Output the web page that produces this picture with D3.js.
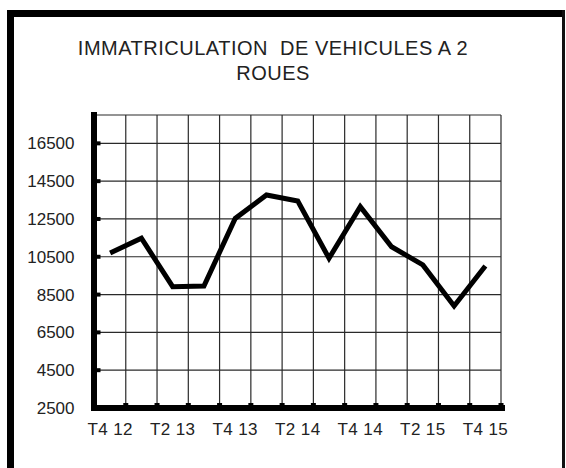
<!DOCTYPE html>
<html>
<head>
<meta charset="utf-8">
<script src="https://cdn.jsdelivr.net/npm/d3@7"></script>
<style>
  body { margin: 0; background: #fff; }
  svg { display: block; font-family: "Liberation Sans", Arial, sans-serif; }
</style>
</head>
<body>
<svg id="chart" width="566" height="468"></svg>
<script>
// data
const quarters = ['T4 12', 'T1 13', 'T2 13', 'T3 13', 'T4 13', 'T1 14', 'T2 14',
  'T3 14', 'T4 14', 'T1 15', 'T2 15', 'T3 15', 'T4 15']
const immatriculations = [10700, 11480, 8920, 8950, 12530, 13770, 13450,
  10420, 13150, 11030, 10070, 7900, 10010]
const yTicks = [2500, 4500, 6500, 8500, 10500, 12500, 14500, 16500]
const xLabels = ['T4 12', 'T2 13', 'T4 13', 'T2 14', 'T4 14', 'T2 15', 'T4 15']
const titleLines = ['IMMATRICULATION  DE VEHICULES A 2', 'ROUES']

const svg = d3.select('#chart')
const ink = '#222'

// outer frame (left + top thick, right thin, no bottom visible)
svg.append('rect').attr('x', 7).attr('y', 10).attr('width', 7).attr('height', 460).attr('fill', '#000')
svg.append('rect').attr('x', 7).attr('y', 10).attr('width', 556).attr('height', 7).attr('fill', '#000')
svg.append('rect').attr('x', 562).attr('y', 10).attr('width', 3).attr('height', 460).attr('fill', '#111')

// title
svg.append('text')
  .attr('text-anchor', 'middle')
  .style('font-size', '20px')
  .style('letter-spacing', '0.5px')
  .style('white-space', 'pre')
  .attr('fill', ink)
  .selectAll('tspan')
  .data(titleLines)
  .join('tspan')
  .attr('x', 273)
  .attr('y', (d, i) => 54.5 + i * 25.5)
  .text(d => d)

////////////////////////////////////////////////////////////////////////////////
// scales
////////////////////////////////////////////////////////////////////////////////
const x = d3.scaleBand().domain(quarters).range([94.5, 501]).padding(0)
const y = d3.scaleLinear().domain([2500, 18000]).range([408, 115])
const left = x.range()[0]
const right = x.range()[1]

// grid
const grid = svg.append('g')
grid.selectAll('line.h')
  .data(yTicks.concat([18000]))
  .join('line')
  .attr('class', 'h')
  .attr('x1', left).attr('x2', right)
  .attr('y1', d => y(d)).attr('y2', d => y(d))
  .attr('stroke', '#2a2a2a').attr('stroke-width', 1.2)
grid.selectAll('line.v')
  .data(quarters)
  .join('line')
  .attr('class', 'v')
  .attr('x1', d => x(d) + x.bandwidth()).attr('x2', d => x(d) + x.bandwidth())
  .attr('y1', y(18000)).attr('y2', y(2500))
  .attr('stroke', '#2a2a2a').attr('stroke-width', 1.2)

// tick nubs
svg.append('g').selectAll('rect')
  .data(yTicks)
  .join('rect')
  .attr('x', left).attr('y', d => y(d) - 2)
  .attr('width', 6).attr('height', 4).attr('fill', '#000')
svg.append('g').selectAll('rect')
  .data(quarters)
  .join('rect')
  .attr('x', d => x(d) + x.bandwidth() - 2.5).attr('y', y(2500) - 5)
  .attr('width', 5).attr('height', 3).attr('fill', '#000')

// thick axes lines
svg.append('line')
  .attr('x1', left - 0.5).attr('x2', left - 0.5)
  .attr('y1', y(18000) - 3).attr('y2', y(2500) + 3)
  .attr('stroke', '#000').attr('stroke-width', 6)
svg.append('line')
  .attr('x1', left - 3.5).attr('x2', right + 4)
  .attr('y1', y(2500)).attr('y2', y(2500))
  .attr('stroke', '#000').attr('stroke-width', 6)

// axis labels
const yAxis = svg.append('g')
  .attr('transform', 'translate(' + (left - 3) + ',0)')
  .call(d3.axisLeft(y).tickValues(yTicks).tickSize(0).tickPadding(17).tickFormat(d3.format('d')))
yAxis.select('.domain').remove()
yAxis.selectAll('text').style('font-size', '17px').attr('fill', ink).attr('font-family', null)

const xAxis = svg.append('g')
  .attr('transform', 'translate(0,' + y(2500) + ')')
  .call(d3.axisBottom(x).tickValues(xLabels).tickSize(0).tickPadding(15))
xAxis.select('.domain').remove()
xAxis.selectAll('text').style('font-size', '17px').style('letter-spacing', '0.4px')
  .attr('fill', ink).attr('font-family', null)

////////////////////////////////////////////////////////////////////////////////
// line
////////////////////////////////////////////////////////////////////////////////
const valueline = d3.line()
  .x((d, i) => x(quarters[i]) + x.bandwidth() / 2)
  .y(d => y(d))

svg.append('path')
  .datum(immatriculations)
  .attr('d', valueline)
  .attr('fill', 'none')
  .attr('stroke', '#000')
  .attr('stroke-width', 5)
  .attr('stroke-linejoin', 'miter')
</script>
</body>
</html>
